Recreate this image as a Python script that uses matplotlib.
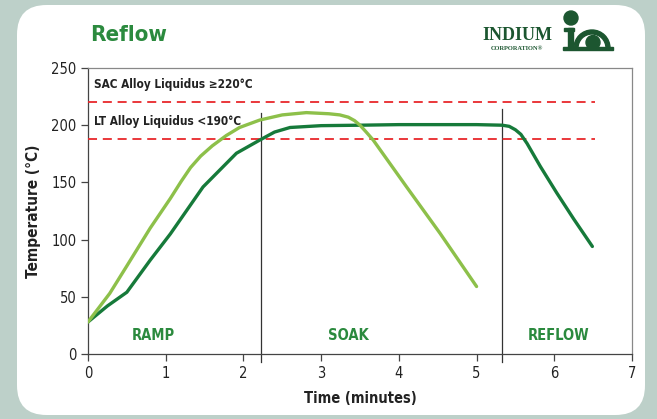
import matplotlib.pyplot as plt
from matplotlib.patches import FancyBboxPatch, Circle, Rectangle, Wedge

# reflow profile data (time in minutes, temp in degC)
dark_t = [0, 0.25, 0.5, 0.8, 1.06, 1.48, 1.91, 2.21, 2.4, 2.6, 3.0, 3.5,
          4.0, 4.5, 5.0, 5.33, 5.42, 5.5, 5.57, 5.65, 5.82, 6.03, 6.25, 6.49]
dark_temp = [28, 42, 54, 82, 105, 146, 175.5, 187, 194, 198, 199.6, 200,
             200.5, 200.5, 200.5, 200, 199, 196, 192, 184, 164, 141, 118, 94]

light_t = [0, 0.28, 0.5, 0.8, 1.06, 1.2, 1.32, 1.45, 1.6, 1.78, 1.95, 2.21, 2.5,
           2.81, 3.1, 3.24, 3.35, 3.43, 3.5, 3.58, 3.67, 4.1, 4.53, 5.0]
light_temp = [28, 53, 77, 110, 136, 151, 163, 173, 182, 191, 198, 204.5, 209,
              211, 210, 209, 207, 204, 200, 194, 187, 146, 105.5, 59]

sac_liquidus = 220
lt_liquidus = 188
phase_edges = [2.23, 5.33]
phase_tops = [211, 214]
phase_names = ["RAMP", "SOAK", "REFLOW"]
phase_x = [0.84, 3.35, 6.05]

plt.rcParams["font.family"] = "DejaVu Sans"
plt.rcParams["font.stretch"] = "condensed"
green_txt = "#2b8a3e"
dark_green = "#167a3a"
light_green = "#8dc04a"

fig = plt.figure(figsize=(6.57, 4.19), dpi=100, facecolor="#bdd0c9")

# white card with rounded corners
card = FancyBboxPatch((17 / 657, 4 / 419), 628 / 657, 410 / 419,
                      boxstyle="round,pad=0,rounding_size=0.045",
                      transform=fig.transFigure, facecolor="white",
                      edgecolor="none", mutation_aspect=657 / 419, zorder=-10)
fig.patches.append(card)

ax = fig.add_axes([88 / 657, 65 / 419, 544 / 657, 286 / 419])
ax.set_facecolor("none")

ax.plot(dark_t, dark_temp, color=dark_green, lw=2.4, solid_capstyle="round",
        solid_joinstyle="round", zorder=4)
ax.plot(light_t, light_temp, color=light_green, lw=2.4, solid_capstyle="round",
        solid_joinstyle="round", zorder=4)

for y in (sac_liquidus, lt_liquidus):
    ax.plot([0, 6.52], [y, y], color="#e8282b", lw=1.3, dashes=(5, 3.2), zorder=3)

for xe, top in zip(phase_edges, phase_tops):
    ax.plot([xe, xe], [-7, top], color="#333333", lw=0.9, clip_on=False, zorder=2)

for name, xp in zip(phase_names, phase_x):
    ax.text(xp, 16, name, color=green_txt, fontsize=10.5, fontweight="bold",
            ha="center", va="center")

ax.text(0.08, 236, "SAC Alloy Liquidus \u2265220\u00b0C", fontsize=8.5, fontweight="bold",
        color="#222222", va="center")
ax.text(0.08, 203, "LT Alloy Liquidus <190\u00b0C", fontsize=8.5, fontweight="bold",
        color="#222222", va="center")

ax.set_xlim(0, 7)
ax.set_ylim(0, 250)
ax.set_xticks(range(8))
ax.set_yticks(range(0, 251, 50))
ax.tick_params(direction="out", length=5, width=0.9, color="#444444",
               labelsize=10.5, labelcolor="#222222")
for side in ("left", "bottom"):
    ax.spines[side].set_color("#444444")
    ax.spines[side].set_linewidth(0.9)
for side in ("top", "right"):
    ax.spines[side].set_color("#888888")
    ax.spines[side].set_linewidth(0.9)

ax.set_xlabel("Time (minutes)", fontsize=10.5, fontweight="bold",
              color="#222222", labelpad=7)
ax.set_ylabel("Temperature (\u00b0C)", fontsize=11, fontweight="bold",
              color="#222222", labelpad=7)

# title
fig.text(90 / 657, 1 - 35 / 419, "Reflow", fontsize=16, fontweight="bold",
         color=green_txt, va="center")

# rough version of the company logo
logo_green = "#1c5630"
fig.text(517 / 657, 1 - 36 / 419, "INDIUM", fontsize=13, fontweight="bold",
         family="Liberation Serif", stretch="normal", color=logo_green,
         ha="center", va="center")
fig.text(517 / 657, 1 - 48.5 / 419, "CORPORATION\u00ae", fontsize=4.6, fontweight="bold",
         family="Liberation Serif", stretch="normal", color=logo_green,
         ha="center", va="center")
lax = fig.add_axes([560 / 657, 1 - 55 / 419, 56 / 657, 46 / 419])
lax.set_xlim(560, 616)
lax.set_ylim(55, 9)
lax.axis("off")
lax.add_patch(Circle((571, 18), 7, color=logo_green))
lax.add_patch(Rectangle((564, 28), 10, 3, color=logo_green))
lax.add_patch(Rectangle((567.5, 28), 5, 21, color=logo_green))
lax.add_patch(Rectangle((563, 47), 50, 3, color=logo_green))
lax.add_patch(Wedge((592, 48), 18, 180, 360, width=4, color=logo_green))
lax.add_patch(Circle((593, 42.5), 7, color=logo_green))

fig.savefig("out.png", dpi=100, facecolor=fig.get_facecolor())
